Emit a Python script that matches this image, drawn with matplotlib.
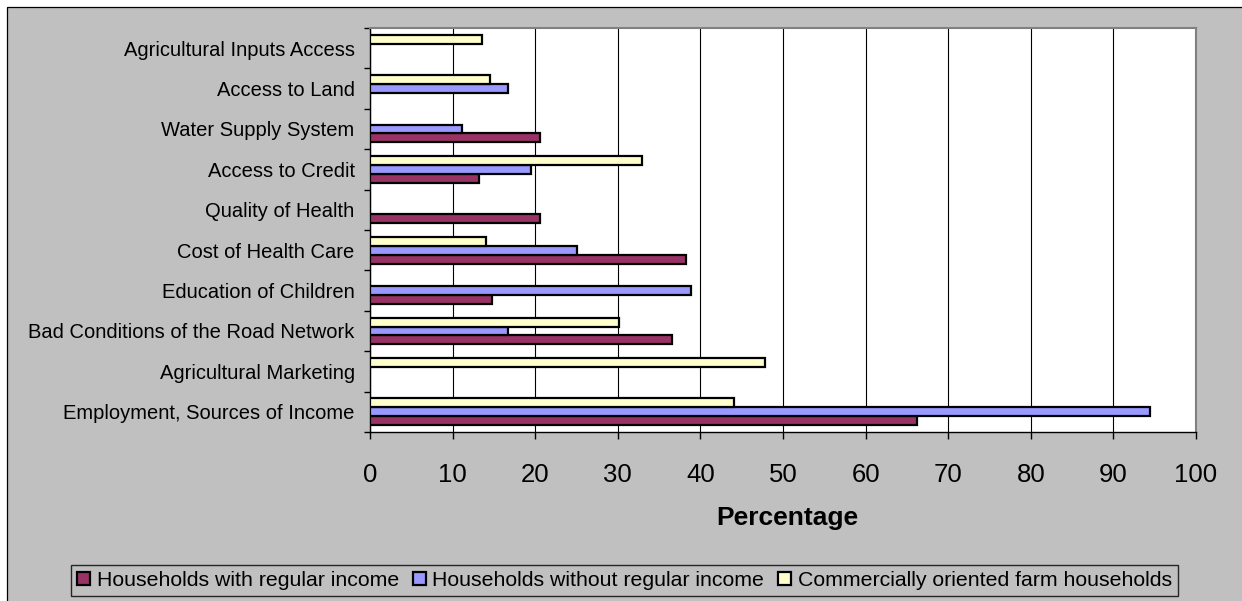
import numpy as np
import matplotlib
matplotlib.use("Agg")
import matplotlib.pyplot as plt
from matplotlib.patches import Rectangle, Patch

plt.rcParams['font.family'] = ['Liberation Sans', 'DejaVu Sans']

# Problems listed from bottom to top of the chart
categories = [
    "Employment, Sources of Income",
    "Agricultural Marketing",
    "Bad Conditions of the Road Network",
    "Education of Children",
    "Cost of Health Care",
    "Quality of Health",
    "Access to Credit",
    "Water Supply System",
    "Access to Land",
    "Agricultural Inputs Access",
]

nan = np.nan
regular_income = [66.2, nan, 36.6, 14.8, 38.2, 20.6, 13.2, 20.6, nan, nan]
no_regular_income = [94.4, nan, 16.7, 38.9, 25.1, nan, 19.5, 11.1, 16.7, nan]
commercial_farm = [44.1, 47.8, 30.1, nan, 14.0, nan, 32.9, nan, 14.5, 13.6]

series_names = [
    "Households with regular income",
    "Households without regular income",
    "Commercially oriented farm households",
]
series_values = [regular_income, no_regular_income, commercial_farm]
series_colors = ["#993366", "#9999FF", "#FFFFCC"]

x_ticks = list(range(0, 101, 10))

fig = plt.figure(figsize=(12.42, 6.01), dpi=100)
fig.patch.set_facecolor("white")

# grey chart area with a thin dark frame
frame = Rectangle((7 / 1242, -0.05), 1.2, 1 - 7 / 601 + 0.05,
                  transform=fig.transFigure, facecolor="#C0C0C0",
                  edgecolor="black", linewidth=0.9, zorder=-5)
fig.patches.append(frame)

ax = fig.add_axes([370 / 1242, 1 - 432 / 601, (1196 - 370) / 1242, (432 - 28) / 601])
ax.set_zorder(2)
ax.set_facecolor("white")

y = np.arange(len(categories))
bar_h = 1 / 4.5
offsets = [-bar_h, 0.0, bar_h]
for vals, off, col in zip(series_values, offsets, series_colors):
    ax.barh(y + off, vals, height=bar_h, color=col, edgecolor="black",
            linewidth=1.6, zorder=3)

ax.set_xlim(0, 100)
ax.set_ylim(-0.5, len(categories) - 0.5)

ax.set_xticks(x_ticks)
ax.set_xticklabels([str(t) for t in x_ticks], fontsize=18.5)
ax.tick_params(axis="x", direction="out", length=5, width=1.0, pad=17, colors="black")

ax.set_yticks(np.arange(len(categories) + 1) - 0.5)
ax.set_yticklabels([])
ax.set_yticks(y, minor=True)
ax.set_yticklabels(categories, minor=True, fontsize=14.5)
ax.tick_params(axis="y", which="major", direction="out", length=4, width=1.0)
ax.tick_params(axis="y", which="minor", length=0, pad=11)

ax.grid(axis="x", color="black", linewidth=0.8, zorder=1)
ax.set_axisbelow(True)

for side in ("top", "right"):
    ax.spines[side].set_color("#808080")
    ax.spines[side].set_linewidth(1.5)
for side in ("left", "bottom"):
    ax.spines[side].set_color("black")
    ax.spines[side].set_linewidth(1.0)

fig.text(787 / 1242, 1 - 518 / 601, "Percentage", fontsize=19, fontweight="bold",
         ha="center", va="center", zorder=3)

handles = [Patch(facecolor=c, edgecolor="black", linewidth=1.6) for c in series_colors]
leg = fig.legend(handles, series_names, loc="center", ncol=3,
                 bbox_to_anchor=(624.5 / 1242, 1 - 580.5 / 601),
                 fontsize=15.3, frameon=True, fancybox=False, shadow=False,
                 handlelength=0.62, handleheight=0.62, handletextpad=0.3,
                 columnspacing=0.65, borderpad=0.3, borderaxespad=0)
leg.get_frame().set_facecolor("#C0C0C0")
leg.get_frame().set_edgecolor("black")
leg.get_frame().set_linewidth(1.0)
leg.set_zorder(3)

fig.savefig("out.png", dpi=100, facecolor=fig.get_facecolor())
